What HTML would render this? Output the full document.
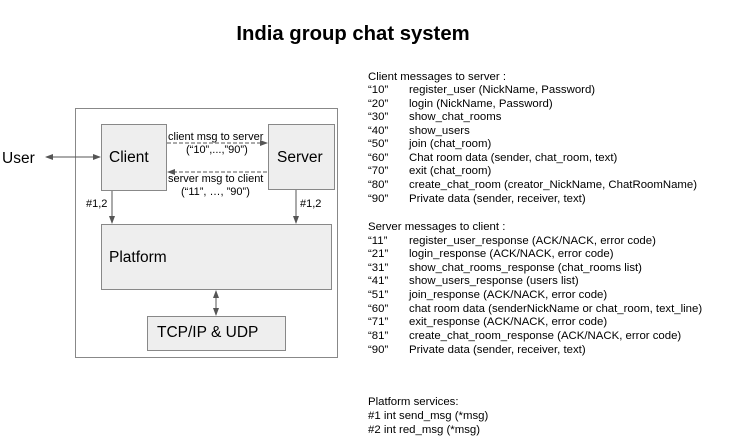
<!DOCTYPE html>
<html><head><style>
body{margin:0;background:#fff;width:752px;height:445px;position:relative;font-family:"Liberation Sans",sans-serif;overflow:hidden}
.t{position:absolute;white-space:nowrap;color:#000}
.l{position:absolute;font-size:11.4px;white-space:nowrap;left:368px}
.l span{position:absolute;left:41px}
</style></head><body>
<div class="t" style="left:0;width:706px;text-align:center;top:23px;font-size:20.3px;font-weight:bold">India group chat system</div>
<svg width="752" height="445" style="position:absolute;left:0;top:0">
<defs><marker id="a" markerWidth="8" markerHeight="8" refX="7" refY="4" orient="auto-start-reverse" markerUnits="userSpaceOnUse"><path d="M0,1 L8,4 L0,7z" fill="#555"/></marker></defs>
<rect x="75.5" y="108.5" width="262" height="249" fill="#fff" stroke="#888"/>
<rect x="101.5" y="124.5" width="65" height="66" fill="#eee" stroke="#888"/>
<rect x="268.5" y="124.5" width="66" height="65" fill="#eee" stroke="#888"/>
<rect x="101.5" y="224.5" width="230" height="65" fill="#eee" stroke="#888"/>
<rect x="147.5" y="316.5" width="138" height="34" fill="#eee" stroke="#888"/>
<line x1="46" y1="157" x2="100" y2="157" stroke="#555" marker-start="url(#a)" marker-end="url(#a)"/>
<line x1="167" y1="143" x2="267" y2="143" stroke="#555" stroke-dasharray="4,2" marker-end="url(#a)"/>
<line x1="267" y1="172" x2="168" y2="172" stroke="#555" stroke-dasharray="4,2" marker-end="url(#a)"/>
<line x1="112" y1="191" x2="112" y2="223" stroke="#555" marker-end="url(#a)"/>
<line x1="296" y1="190" x2="296" y2="223" stroke="#555" marker-end="url(#a)"/>
<line x1="216" y1="291" x2="216" y2="315" stroke="#555" marker-start="url(#a)" marker-end="url(#a)"/>
</svg>
<div class="t" style="left:2px;top:150px;font-size:15.5px">User</div>
<div class="t" style="left:109px;top:149px;font-size:15.5px">Client</div>
<div class="t" style="left:277px;top:149px;font-size:15.5px">Server</div>
<div class="t" style="left:109px;top:249px;font-size:15.5px">Platform</div>
<div class="t" style="left:157px;top:324px;font-size:15.5px">TCP/IP &amp; UDP</div>
<div class="t" style="left:168px;top:131px;font-size:11px">client msg to server</div>
<div class="t" style="left:186px;top:144px;font-size:11px">(“10”,...,”90”)</div>
<div class="t" style="left:168px;top:173px;font-size:11px">server msg to client</div>
<div class="t" style="left:181px;top:186px;font-size:11px">(“11”, …, ”90”)</div>
<div class="t" style="left:86px;top:198px;font-size:11px">#1,2</div>
<div class="t" style="left:300px;top:198px;font-size:11px">#1,2</div>
<div class="l" style="top:71px">Client messages to server :</div>
<div class="l" style="top:84px">“10”<span>register_user (NickName, Password)</span></div>
<div class="l" style="top:98px">“20”<span>login (NickName, Password)</span></div>
<div class="l" style="top:111px">“30”<span>show_chat_rooms</span></div>
<div class="l" style="top:125px">“40”<span>show_users</span></div>
<div class="l" style="top:138px">“50”<span>join (chat_room)</span></div>
<div class="l" style="top:152px">“60”<span>Chat room data (sender, chat_room, text)</span></div>
<div class="l" style="top:165px">“70”<span>exit (chat_room)</span></div>
<div class="l" style="top:179px">“80”<span>create_chat_room (creator_NickName, ChatRoomName)</span></div>
<div class="l" style="top:193px">“90”<span>Private data (sender, receiver, text)</span></div>
<div class="l" style="top:221px">Server messages to client :</div>
<div class="l" style="top:235px">“11”<span>register_user_response (ACK/NACK, error code)</span></div>
<div class="l" style="top:248px">“21”<span>login_response (ACK/NACK, error code)</span></div>
<div class="l" style="top:262px">“31”<span>show_chat_rooms_response (chat_rooms list)</span></div>
<div class="l" style="top:275px">“41”<span>show_users_response (users list)</span></div>
<div class="l" style="top:289px">“51”<span>join_response (ACK/NACK, error code)</span></div>
<div class="l" style="top:303px">“60”<span>chat room data (senderNickName or chat_room, text_line)</span></div>
<div class="l" style="top:316px">“71”<span>exit_response (ACK/NACK, error code)</span></div>
<div class="l" style="top:330px">“81”<span>create_chat_room_response (ACK/NACK, error code)</span></div>
<div class="l" style="top:344px">“90”<span>Private data (sender, receiver, text)</span></div>
<div class="l" style="top:396px">Platform services:</div>
<div class="l" style="top:410px">#1 int send_msg (*msg)</div>
<div class="l" style="top:424px">#2 int red_msg (*msg)</div>
</body></html>
